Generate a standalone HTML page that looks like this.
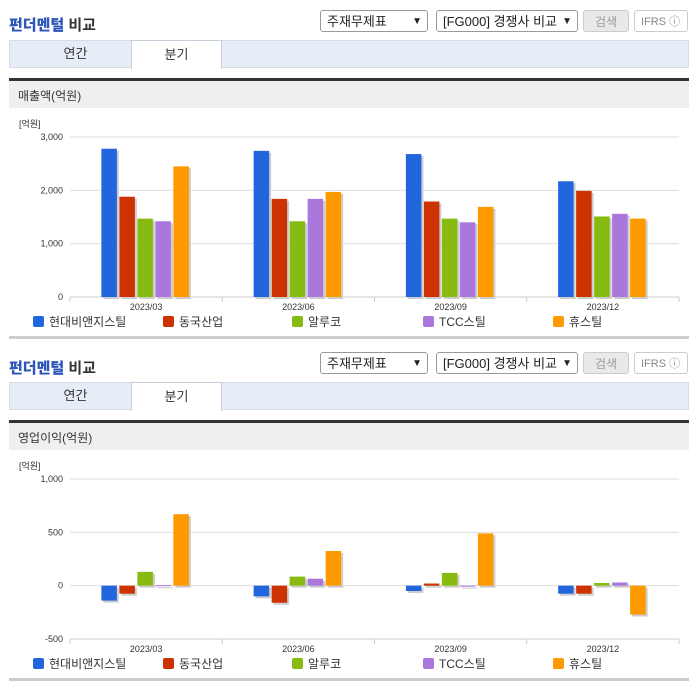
<!DOCTYPE html>
<html><head><meta charset="utf-8">
<style>
body{margin:0;width:696px;height:684px;background:#fff;font-family:"Liberation Sans","Noto Sans CJK KR",sans-serif;position:relative;overflow:hidden}
.abs{position:absolute}
.title{font-size:15px;color:#333;font-weight:bold}
.title b{color:#2d56b8}
.sel{border:1px solid #999;border-radius:3px;background:#fff;font-size:13px;color:#222;height:22px;line-height:22px;padding-left:6px;box-sizing:border-box}
.sel span{position:absolute;right:5px;top:0;font-size:10px}
.btn{border:1px solid #ccc;border-radius:3px;background:#e9e9e9;color:#999;font-size:12px;text-align:center;height:22px;line-height:22px;box-sizing:border-box}
.ifrs{border:1px solid #ccc;border-radius:3px;background:#fff;color:#888;font-size:11px;height:22px;line-height:22px;box-sizing:border-box;padding-left:6px}
.tabs{left:9px;width:680px;height:28px;background:#e6edf7;border:1px solid #d5dce6;box-sizing:border-box}
.tab{position:absolute;top:-1px;height:29px;line-height:28px;font-size:13px;color:#333;text-align:center;width:91px}
.tab.on{background:#fff;border:1px solid #c8d0dc;border-bottom:none;box-sizing:border-box}
.hdr{left:9px;width:680px;height:30px;background:#efefef;border-top:3px solid #333;font-size:12px;color:#333;line-height:30px;padding-left:9px;box-sizing:border-box}
.bot{left:9px;width:680px;height:3px;background:#ccc}
.leg{font-size:12px;color:#333;height:14px;line-height:14px}
.leg i{display:inline-block;width:11px;height:11px;border-radius:2px;vertical-align:-1px;margin-right:5px}
</style></head><body>

<div class="abs title" style="left:9px;top:14px"><b>펀더멘털</b> 비교</div>
<div class="abs sel" style="left:320px;top:10px;width:108px">주재무제표<span>&#9660;</span></div>
<div class="abs sel" style="left:436px;top:10px;width:142px">[FG000] 경쟁사 비교<span>&#9660;</span></div>
<div class="abs btn" style="left:583px;top:10px;width:46px">검색</div>
<div class="abs ifrs" style="left:634px;top:10px;width:54px">IFRS ⓘ</div>
<div class="abs tabs" style="top:40px">
 <div class="tab" style="left:20px">연간</div>
 <div class="tab on" style="left:121px">분기</div>
</div>
<div class="abs hdr" style="top:78px">매출액(억원)</div>
<svg class="abs" id="c1" style="left:0;top:108px" width="696" height="228"></svg>
<div class="abs bot" style="top:336px"></div>

<div class="abs title" style="left:9px;top:357px"><b>펀더멘털</b> 비교</div>
<div class="abs sel" style="left:320px;top:352px;width:108px">주재무제표<span>&#9660;</span></div>
<div class="abs sel" style="left:436px;top:352px;width:142px">[FG000] 경쟁사 비교<span>&#9660;</span></div>
<div class="abs btn" style="left:583px;top:352px;width:46px">검색</div>
<div class="abs ifrs" style="left:634px;top:352px;width:54px">IFRS ⓘ</div>
<div class="abs tabs" style="top:382px">
 <div class="tab" style="left:20px">연간</div>
 <div class="tab on" style="left:121px">분기</div>
</div>
<div class="abs hdr" style="top:420px">영업이익(억원)</div>
<svg class="abs" id="c2" style="left:0;top:450px" width="696" height="228"></svg>
<div class="abs bot" style="top:678px"></div>

<script>
const categories=["2023/03","2023/06","2023/09","2023/12"];
const seriesNames=["현대비앤지스틸","동국산업","알루코","TCC스틸","휴스틸"];
const seriesColors=["#2266dd","#cc3300","#88bb11","#aa77dd","#ff9900"];
const revenueS1=[2780,2740,2680,2170];
const revenueS2=[1880,1840,1790,1990];
const revenueS3=[1470,1420,1470,1510];
const revenueS4=[1420,1840,1400,1560];
const revenueS5=[2450,1970,1690,1470];
const revenueTicks=[0,1000,2000,3000];
const revenueTickLabels=["0","1,000","2,000","3,000"];
const opS1=[-140,-100,-50,-75];
const opS2=[-75,-160,20,-75];
const opS3=[130,85,120,25];
const opS4=[5,65,0,30];
const opS5=[670,325,490,-270];
const opTicks=[-500,0,500,1000];
const opTickLabels=["-500","0","500","1,000"];

const NS="http://www.w3.org/2000/svg";
function mk(svg,tag,attrs,txt){const e=document.createElementNS(NS,tag);for(const k in attrs)e.setAttribute(k,attrs[k]);if(txt!==undefined)e.textContent=txt;svg.appendChild(e);return e;}

function draw(id,series,ticks,labels,min,max,prefix){
 const svg=document.getElementById(id);
 const L=70,R=679,T=29,B=189;
 const y=v=>B-(v-min)/(max-min)*(B-T);
 const cw=(R-L)/categories.length;
 const x=i=>L+cw*i+cw/2;
 let t=mk(svg,'text',{x:19,y:19,'font-size':9,fill:'#333'},'[억원]');
 
 ticks.forEach((v,i)=>{
  let g=mk(svg,'line',{x1:L,x2:R,y1:y(v),y2:y(v),stroke:'#ddd','stroke-width':1});
  
  let l=mk(svg,'text',{x:63,y:y(v)+3,'font-size':9,fill:'#333','text-anchor':'end'},labels[i]);
  
 });
 let ax=mk(svg,'line',{x1:L,x2:R,y1:B,y2:B,stroke:'#ccc'});
 
 for(let i=0;i<=categories.length;i++){let tk=mk(svg,'line',{x1:L+cw*i,x2:L+cw*i,y1:B,y2:B+5,stroke:'#ccc'});}
 const bw=15.5,gap=18;
 categories.forEach((c,i)=>{
  let cl=mk(svg,'text',{x:x(i),y:B+13,'font-size':9,fill:'#333','text-anchor':'middle'},c);
  
  series.forEach((s,j)=>{
   const v=s[i];const bx=x(i)-2*gap-bw/2+j*gap-1;
   const y0=y(Math.max(v,0)),h=Math.abs(y(v)-y(0));
   let sh=mk(svg,'rect',{x:bx+2,y:y0+2,width:bw,height:Math.max(h,1),fill:'#ccc'});
   
   let r=mk(svg,'rect',{x:bx,y:y0,width:bw,height:Math.max(h,1),fill:seriesColors[j]});
   
   
  });
 });
 const lx=[33,163,292,423,553];
 seriesNames.forEach((n,j)=>{
  let sq=mk(svg,'rect',{x:lx[j],y:B+19,width:11,height:11,rx:2,fill:seriesColors[j]});
  
  let lt=mk(svg,'text',{x:lx[j]+16,y:B+29,'font-size':12,fill:'#333'},n);
  
 });
}
draw('c1',[revenueS1,revenueS2,revenueS3,revenueS4,revenueS5],revenueTicks,revenueTickLabels,0,3000,'revenue');
draw('c2',[opS1,opS2,opS3,opS4,opS5],opTicks,opTickLabels,-500,1000,'op');
</script>
</body></html>
